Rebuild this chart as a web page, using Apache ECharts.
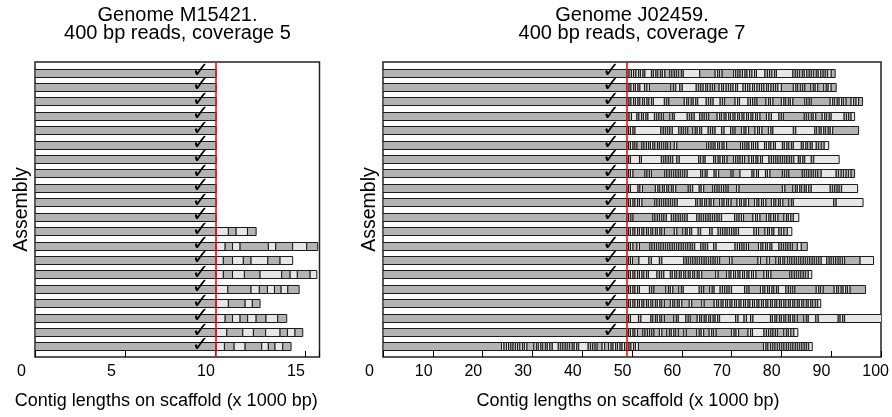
<!DOCTYPE html>
<html><head><meta charset="utf-8">
<script src="https://cdn.jsdelivr.net/npm/echarts@6/dist/echarts.min.js"></script>
<style>html,body{margin:0;padding:0;background:#fff}#c{width:892px;height:417px}</style>
</head><body><div id="c"></div>
<script>
// ---------- texts ----------
const leftTitle = 'Genome M15421.\n400 bp reads, coverage 5';
const rightTitle = 'Genome J02459.\n400 bp reads, coverage 7';
const xName = 'Contig lengths on scaffold (x 1000 bp)';
const yName = 'Assembly';
const leftTicks = [0, 5, 10, 15];
const rightTicks = [0, 10, 20, 30, 40, 50, 60, 70, 80, 90, 100];

// ---------- left panel (x 1000 bp) ----------
const leftCut = 10.06;          // end of the checked first contig (red line)
const leftCheckX = 9.2;
// end of first contig for each of the 20 assemblies
const leftFirstEnd = [10.06,10.06,10.06,10.06,10.06,10.06,10.06,10.06,10.06,10.06,
                      10.06,10.06,10.06,10.06,10.06,10.06,10.06,10.06,10.06,10.06];
// ends of the following contigs, per assembly
const leftEnds = [
  [],[],[],[],[],[],[],[],[],[],[],
  [10.74,11.17,11.80,12.28],
  [10.56,10.97,11.39,12.96,13.37,14.31,15.09,15.70],
  [10.46,10.97,11.57,12.00,12.93,13.61,14.31],
  [10.46,10.97,11.63,12.50,13.70,14.17,14.57,15.28,15.65],
  [10.71,12.00,12.46,12.91,13.30,13.67,14.04,14.67],
  [10.74,11.67,12.07,12.50],
  [10.56,10.97,11.39,11.81,12.28,12.83,13.48,13.98],
  [10.65,11.54,12.13,12.81,13.61,14.02,14.44,14.87],
  [10.52,11.06,11.67,12.59,12.96,13.33,13.76,14.22]
];

// ---------- right panel (x 1000 bp) ----------
const rightCut = 48.93;
const rightCheckX = 45.8;
const rightFirstEnd = [48.93,48.93,48.93,48.93,48.93,48.93,48.93,48.93,48.93,48.93,
                       48.93,48.93,48.93,48.93,48.93,48.93,48.93,48.93,48.93,23.8];
const rightEnds = [
  [49.4,49.9,50.3,50.8,51.3,51.7,52.2,52.6,53.9,54.3,54.8,55.2,55.7,56.1,56.6,57.6,58.0,58.5,58.9,59.4,59.9,60.3,63.6,66.7,67.2,67.6,68.1,70.4,70.8,71.3,71.7,72.2,72.7,73.1,73.6,74.1,74.6,75.0,76.7,77.2,77.6,78.1,78.6,79.0,82.3,82.8,83.2,83.7,84.2,84.6,85.1,85.6,86.0,86.5,87.0,87.4,87.9,88.4,88.8,89.3,90.0,90.8],
  [49.4,49.8,50.3,50.7,51.2,51.6,52.5,53.0,53.5,57.8,58.3,58.8,59.6,60.1,62.9,63.4,63.8,64.3,64.8,65.2,65.7,66.2,66.6,67.5,68.0,68.4,68.9,69.4,69.8,70.3,70.8,71.2,72.3,72.8,73.2,73.7,74.2,74.6,75.1,75.6,76.0,76.5,77.0,77.4,77.9,78.4,78.8,79.3,80.0,82.4,82.9,83.3,83.8,84.3,84.7,85.9,86.4,86.8,87.3,88.5,89.0,89.4,90.0,91.0],
  [49.4,49.8,50.3,50.7,51.2,51.6,52.1,52.5,53.0,53.4,53.9,54.3,56.5,57.0,57.4,60.5,61.0,61.4,61.9,62.3,62.8,63.2,64.9,65.4,65.8,66.3,67.7,68.2,68.6,70.7,71.2,71.6,73.3,73.8,74.2,74.7,75.1,76.9,77.4,77.8,78.3,80.0,80.5,80.9,81.4,81.8,82.3,84.7,85.1,85.6,86.0,89.8,90.3,90.7,91.2,91.6,92.1,92.5,93.0,94.0,94.5,95.0,95.5,96.3],
  [49.4,49.9,51.0,51.4,51.9,52.3,52.8,53.2,54.5,55.0,55.4,55.9,56.3,57.6,58.1,58.5,61.1,61.6,62.0,62.5,63.6,64.1,64.5,65.0,65.4,67.1,67.6,68.0,68.5,68.9,69.4,69.8,70.3,70.7,71.2,71.6,72.1,72.5,73.0,73.4,73.9,74.3,74.8,75.2,75.7,77.0,77.5,78.0,79.5,80.0,80.4,84.6,85.0,85.5,86.0,86.4,86.9,88.2,88.7,89.1,89.6,90.0,92.6,93.1,93.5,94.0,94.7],
  [49.3,49.7,50.2,50.6,55.8,56.3,56.7,57.2,57.6,58.1,59.4,59.9,60.3,60.8,61.2,62.2,62.7,63.1,63.6,64.0,65.3,65.8,66.2,66.7,68.0,68.5,69.8,70.3,70.7,72.0,72.5,72.9,73.4,74.7,75.2,75.6,76.1,77.4,77.9,78.3,82.4,82.9,86.7,87.1,87.6,88.0,88.5,88.9,89.4,89.8,90.3,95.5],
  [49.3,49.7,50.2,50.6,51.0,52.0,52.4,52.9,53.3,53.7,54.2,54.6,55.1,55.5,55.9,56.4,56.8,57.2,57.7,58.5,59.0,65.0,65.4,65.9,66.3,66.7,67.2,67.6,68.1,68.5,69.0,71.8,72.2,72.7,73.1,73.5,74.0,74.4,74.8,75.3,76.6,77.0,77.5,77.9,78.4,78.8,80.2,80.6,81.1,81.5,82.0,82.4,84.0,84.4,84.9,85.3,85.8,86.2,87.0,87.5,88.0,88.6,89.5],
  [49.3,49.7,51.5,51.9,55.9,56.4,56.8,57.3,57.7,58.2,59.0,59.5,63.4,63.8,64.3,64.7,66.4,66.8,67.3,67.7,68.2,68.6,69.1,70.4,70.8,71.3,71.7,72.2,72.6,73.5,74.0,74.4,74.9,75.3,75.8,76.2,77.5,78.0,78.4,78.9,79.3,79.8,80.2,80.7,81.1,81.6,82.0,82.5,83.4,83.8,84.3,84.7,86.0,86.5,91.6],
  [49.3,49.7,50.2,52.6,53.0,53.5,53.9,56.6,57.0,57.5,57.9,58.4,58.8,59.3,59.7,60.2,60.6,61.1,63.8,64.2,64.7,65.1,66.5,66.9,67.4,69.9,70.3,71.7,74.1,74.5,75.0,75.4,76.8,77.2,77.7,80.2,80.6,81.1,81.5,84.2,84.6,85.1,85.5,86.0,86.4,86.9,87.3,88.0,91.0,91.5,92.0,92.5,93.0,93.5,94.0,94.7],
  [49.3,49.7,51.2,51.6,52.1,54.7,55.2,55.6,56.1,56.5,57.0,57.4,57.9,58.3,58.8,61.3,61.7,62.2,63.5,63.9,64.4,66.2,66.6,67.1,67.5,68.0,68.4,68.9,69.3,71.0,71.5,80.2,80.7,82.3,82.8,83.2,83.7,84.1,84.6,85.0,85.5,86.0,89.8,90.3,90.7,91.2,91.6,92.1,95.3],
  [49.3,49.7,50.2,50.6,51.1,51.5,52.0,54.6,55.0,55.5,55.9,56.4,56.8,57.3,57.7,58.2,58.6,59.1,62.8,63.2,63.7,64.1,64.6,65.0,65.5,65.9,66.4,67.6,68.1,68.5,69.0,69.4,69.9,71.1,71.6,72.0,72.5,72.9,73.4,74.6,75.1,75.5,76.0,76.4,76.9,78.0,78.5,78.9,79.4,79.8,80.3,81.5,82.0,82.4,90.5,91.0,96.4],
  [49.3,49.8,50.2,54.2,54.6,55.1,55.5,56.0,56.4,56.9,57.9,58.4,58.8,59.3,59.7,60.2,60.6,61.1,63.0,63.5,63.9,64.4,64.8,65.3,65.7,66.2,66.6,67.1,67.5,68.0,70.6,71.1,71.5,72.0,72.4,74.3,74.8,75.2,75.7,77.0,77.5,77.9,78.4,78.8,79.3,80.5,81.0,81.4,81.9,82.4,83.5],
  [49.3,49.7,50.2,50.6,51.1,51.5,52.0,52.4,52.9,53.3,53.8,54.2,54.7,55.1,55.6,56.0,56.5,58.5,59.0,60.2,60.7,61.1,61.6,62.0,63.3,63.8,65.6,66.1,67.3,67.8,68.2,68.7,69.1,69.6,70.0,70.5,70.9,71.4,74.5,75.0,75.4,76.7,77.2,77.6,78.1,78.5,79.5,80.0,80.5,81.2,82.1],
  [49.3,49.7,50.2,51.0,51.5,53.6,54.0,54.5,54.9,55.4,55.8,56.3,56.7,57.2,57.6,58.1,58.5,59.0,59.4,59.9,60.3,60.8,61.2,61.7,62.1,62.6,63.8,64.3,64.7,65.2,66.4,66.9,70.7,71.2,71.6,72.1,72.5,73.0,73.4,75.4,75.9,76.3,76.8,77.2,77.7,78.1,79.5,80.0,80.4,80.9,81.3,81.8,82.2,83.2,84.0,85.2],
  [49.3,49.7,50.1,51.4,53.4,53.9,55.5,56.0,60.4,60.9,61.3,61.8,62.2,62.7,63.1,63.6,64.0,64.5,64.9,65.4,65.8,66.3,66.7,67.2,67.6,69.6,70.1,75.3,75.8,77.1,77.6,78.9,79.4,79.8,80.3,80.7,81.2,81.7,82.1,82.6,83.0,83.5,83.9,84.4,84.8,85.3,85.7,86.2,86.6,87.1,87.5,88.0,89.1,89.6,90.0,90.5,90.9,91.4,91.8,92.3,92.7,95.8,98.5],
  [49.3,49.7,50.2,50.6,51.1,51.5,52.0,52.4,52.9,53.3,55.0,55.5,55.9,56.4,57.7,58.1,58.6,59.0,59.5,59.9,60.4,60.8,61.3,61.7,62.2,62.6,63.1,63.5,64.0,66.8,67.3,69.0,69.5,69.9,70.4,70.8,71.3,71.7,72.2,72.6,73.1,73.5,74.0,74.4,74.9,76.5,77.0,77.4,77.9,81.7,82.1,82.6,83.0,83.5,83.9,84.4,84.8,85.4,86.1],
  [49.3,49.7,50.2,50.6,51.1,51.5,53.5,54.0,54.4,56.8,57.3,57.7,58.2,59.4,59.9,60.3,63.5,64.0,64.4,65.6,66.1,66.5,67.7,68.2,68.6,69.1,69.5,70.0,72.6,73.1,73.5,75.8,76.3,76.7,77.2,77.6,78.1,78.5,79.0,79.4,80.9,81.4,81.8,82.3,82.7,87.0,87.5,87.9,88.4,90.6,91.1,91.5,92.0,92.4,92.9,93.3,93.8,96.9],
  [49.3,49.7,50.2,50.6,51.1,51.5,52.0,52.4,52.9,53.3,53.8,54.2,54.7,55.1,55.6,56.0,56.5,57.7,58.2,58.6,59.1,59.5,60.0,61.5,62.0,64.0,64.5,66.5,67.0,67.4,67.9,68.3,68.8,69.2,69.7,70.1,70.6,71.0,71.5,71.9,72.4,72.8,73.3,73.7,74.2,74.6,75.1,75.5,76.0,76.4,76.9,77.3,77.8,78.2,78.7,79.1,79.6,80.0,80.5,80.9,81.4,81.8,82.3,82.7,83.2,83.6,84.1,84.5,85.0,85.4,85.9,86.3,86.8,87.3,87.9],
  [49.3,49.7,51.3,51.8,53.8,54.2,54.7,55.1,55.6,56.0,56.5,58.4,58.9,59.3,60.8,61.3,61.7,63.1,63.6,64.0,64.5,64.9,65.4,65.8,66.3,66.7,67.2,67.6,70.8,71.3,72.5,73.0,73.8,74.3,77.8,78.2,78.7,79.1,79.6,80.0,80.5,80.9,81.4,81.8,82.3,82.7,83.2,84.5,85.0,85.4,86.9,87.4,91.4,91.8,92.3,92.7,100.1],
  [49.3,49.7,50.2,50.6,51.1,52.2,52.6,53.1,53.5,54.0,54.4,55.5,56.0,57.0,57.5,57.9,58.4,58.8,59.3,60.4,60.9,63.0,63.5,63.9,64.4,65.5,66.0,66.4,66.9,70.0,70.5,70.9,71.4,73.3,73.8,74.2,76.5,77.0,77.4,77.9,78.3,78.8,79.2,80.5,81.0,81.4,81.9,82.5,83.3],
  [24.3,24.8,25.2,25.7,26.1,26.6,27.0,27.5,28.0,28.4,28.9,30.3,30.8,31.2,31.7,32.1,32.6,33.0,33.5,34.0,35.2,35.7,36.1,36.6,37.0,37.5,38.0,38.4,38.9,39.3,41.2,41.7,42.1,42.6,43.0,44.0,44.5,45.3,45.8,46.2,46.7,47.1,47.6,48.0,48.5,48.9,49.4,49.8,50.3,50.7,51.3,76.4,76.9,77.3,77.8,78.3,78.7,79.2,79.6,80.1,80.5,81.0,81.4,81.9,82.3,82.8,83.2,83.7,84.1,84.6,85.0,85.5,86.2]
];
const rightChecked = [1,1,1,1,1,1,1,1,1,1,1,1,1,1,1,1,1,1,1,0];

// ---------- build tables ----------
function contigTable(firstEnd, ends) {
  const out = [];
  firstEnd.forEach((fe, i) => {
    const row = i + 1;
    let start = 0;
    [fe].concat(ends[i]).forEach((e, k) => {
      out.push([start, e, row, k]);
      start = e;
    });
  });
  return out;
}
const leftData = contigTable(leftFirstEnd, leftEnds);
const rightData = contigTable(rightFirstEnd, rightEnds);
const leftChecks = leftFirstEnd.map((_, i) => [leftCheckX, i + 1]);
const rightChecks = rightChecked.map((c, i) => c ? [rightCheckX, i + 1] : null).filter(Boolean);

const FONT = '"Liberation Sans", Arial, Helvetica, sans-serif';
const GRAY = '#b3b3b3', LIGHT = '#e6e6e6';

function renderContig(params, api) {
  const s = api.value(0), e = api.value(1), r = api.value(2), k = api.value(3);
  const p0 = api.coord([s, r]);
  const p1 = api.coord([e, r]);
  const h = 8;
  return {
    type: 'rect',
    shape: { x: p0[0], y: Math.round(p0[1] - h / 2) + 0.5, width: p1[0] - p0[0], height: h },
    style: { fill: (k % 2 === 0) ? GRAY : LIGHT, stroke: '#1a1a1a', lineWidth: 1 }
  };
}
function renderCheck(params, api) {
  const p = api.coord([api.value(0), api.value(1)]);
  return {
    type: 'text',
    x: p[0], y: p[1] - 1,
    style: { text: '\u2713', fill: '#000', font: 'bold 21px "DejaVu Sans"', align: 'center', verticalAlign: 'middle' }
  };
}

const yBase = { type: 'value', min: 0.27, max: 20.73, inverse: true,
  axisLine: { show: false }, axisTick: { show: false }, axisLabel: { show: false }, splitLine: { show: false } };
const yNamed = Object.assign({}, yBase, { name: yName, nameLocation: 'middle', nameGap: 3,
  nameTextStyle: { fontSize: 19.5, color: '#000', fontFamily: FONT } });

function mainX(grid, max, interval) {
  return { gridIndex: grid, type: 'value', min: 0, max: max, interval: interval,
    axisLine: { show: false }, axisLabel: { show: false }, splitLine: { show: false },
    axisTick: { show: true, inside: true, length: 6, lineStyle: { color: '#000', width: 1 } },
    name: xName, nameLocation: 'middle', nameGap: 35,
    nameTextStyle: { fontSize: 18, color: '#000', fontFamily: FONT, padding: grid === 0 ? [0, 22, 0, 0] : [0, 8, 0, 0] } };
}
function labelX(grid, max, interval, ticks) {
  return { gridIndex: grid, type: 'value', min: 0, max: max, interval: interval,
    axisLine: { show: false }, axisTick: { show: false }, splitLine: { show: false },
    axisLabel: { show: true, align: 'left', margin: 7, fontSize: 16, color: '#000', fontFamily: FONT,
      formatter: v => (ticks.indexOf(v) >= 0 ? String(v) : '') } };
}

const chart = echarts.init(document.getElementById('c'), null, { renderer: 'canvas' });
chart.setOption({
  animation: false,
  backgroundColor: '#fff',
  title: [
    { text: leftTitle, left: 177.5, top: 7, padding: 0, textAlign: 'center',
      textStyle: { fontSize: 20, fontWeight: 'normal', color: '#000', lineHeight: 17.5, fontFamily: FONT } },
    { text: rightTitle, left: 632, top: 7, padding: 0, textAlign: 'center',
      textStyle: { fontSize: 20, fontWeight: 'normal', color: '#000', lineHeight: 17.5, fontFamily: FONT } }
  ],
  grid: [
    { left: 35, top: 62, width: 284.5, height: 295, show: true, borderColor: '#222', borderWidth: 1.5, backgroundColor: 'transparent' },
    { left: 383, top: 62, width: 498, height: 295, show: true, borderColor: '#222', borderWidth: 1.5, backgroundColor: 'transparent' },
    { left: 17, top: 62, width: 284.5, height: 295, show: false },
    { left: 365, top: 62, width: 498, height: 295, show: false }
  ],
  xAxis: [
    mainX(0, 15.8, 5),
    mainX(1, 100, 10),
    labelX(2, 15.8, 5, leftTicks),
    labelX(3, 100, 10, rightTicks)
  ],
  yAxis: [
    Object.assign({ gridIndex: 0 }, yNamed),
    Object.assign({ gridIndex: 1 }, yNamed),
    Object.assign({ gridIndex: 2, show: false }, yBase),
    Object.assign({ gridIndex: 3, show: false }, yBase)
  ],
  series: [
    { type: 'custom', xAxisIndex: 0, yAxisIndex: 0, data: leftData, renderItem: renderContig, z: 2, clip: true,
      encode: { x: [0, 1], y: 2 } },
    { type: 'custom', xAxisIndex: 1, yAxisIndex: 1, data: rightData, renderItem: renderContig, z: 2, clip: true,
      encode: { x: [0, 1], y: 2 } },
    { type: 'custom', xAxisIndex: 0, yAxisIndex: 0, data: leftChecks, renderItem: renderCheck, z: 5,
      markLine: { silent: true, symbol: ['none', 'none'], label: { show: false }, z: 4,
        lineStyle: { color: '#e8141c', width: 1.6, type: 'solid' }, data: [{ xAxis: leftCut }] } },
    { type: 'custom', xAxisIndex: 1, yAxisIndex: 1, data: rightChecks, renderItem: renderCheck, z: 5,
      markLine: { silent: true, symbol: ['none', 'none'], label: { show: false }, z: 4,
        lineStyle: { color: '#e8141c', width: 1.6, type: 'solid' }, data: [{ xAxis: rightCut }] } }
  ]
});
</script></body></html>
